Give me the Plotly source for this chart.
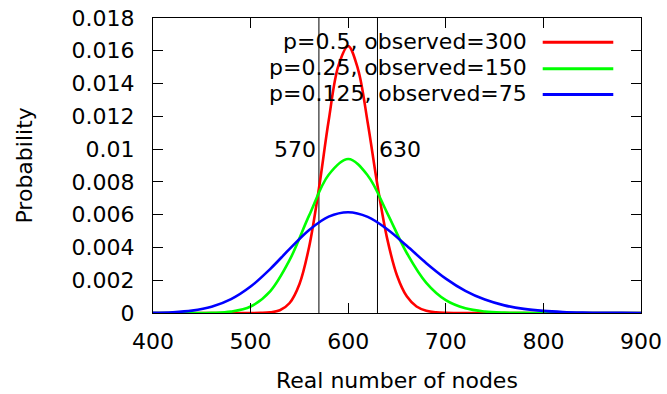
import plotly.graph_objects as go

# ---- data ----
nodes_a = [400, 410, 420, 430, 440, 450, 460, 470, 480, 490,
           500, 510, 520, 530, 540, 550, 560, 570, 580, 590,
           600, 610, 620, 630, 640, 650, 660, 670, 680, 690,
           700, 710, 720, 730, 740, 750, 760, 770, 780, 790,
           800, 810, 820, 830, 840, 850, 860, 870, 880, 890, 900]
prob_a = [0, 0, 0, 0, 0, 0, 0, 0, 0, 0.0000001,
          0.0000008, 0.0000061, 0.0000367, 0.000170, 0.000612, 0.001755, 0.004046, 0.007597, 0.011742, 0.015095,
          0.016283, 0.014887, 0.011612, 0.007789, 0.004524, 0.002289, 0.001016, 0.000397, 0.000138, 0.0000425,
          0.0000117, 0.0000029, 0.0000006, 0, 0, 0, 0, 0, 0, 0,
          0, 0, 0, 0, 0, 0, 0, 0, 0, 0, 0]

nodes_bc = [400, 420, 440, 460, 480, 500, 520, 540, 560, 580, 600, 620, 640,
            660, 680, 700, 720, 740, 760, 780, 800, 820, 840, 860, 880, 900]
prob_b = [0, 0, 0.0000012, 0.0000123, 0.0000843, 0.000396, 0.001323, 0.003237, 0.005955, 0.008438,
          0.009397, 0.008393, 0.006099, 0.003661, 0.001839, 0.000782, 0.000285, 0.0000895, 0.0000245,
          0.0000059, 0.0000013, 0.0000003, 0, 0, 0, 0]
prob_c = [0.0000114, 0.0000448, 0.0001428, 0.0003775, 0.000843, 0.001612, 0.002679, 0.003910, 0.005066,
          0.005877, 0.006149, 0.005863, 0.005110, 0.004099, 0.003043, 0.002100, 0.001353, 0.000818,
          0.000465, 0.0002495, 0.0001268, 0.0000612, 0.0000281, 0.0000123, 0.0000052, 0.0000021]

series_names = ["p=0.5, observed=300", "p=0.25, observed=150", "p=0.125, observed=75"]
series_colors = ["#ff0000", "#00ff00", "#0000ff"]

marker_lines = [570, 630]
marker_labels = ["570", "630"]
marker_label_y = 0.01

x_ticks = [400, 500, 600, 700, 800, 900]
y_ticks = [0, 0.002, 0.004, 0.006, 0.008, 0.01, 0.012, 0.014, 0.016, 0.018]
y_tick_text = ["0", "0.002", "0.004", "0.006", "0.008", "0.01", "0.012", "0.014", "0.016", "0.018"]

FONT = "DejaVu Sans"
FS = 22

fig = go.Figure()
for xs, ys, name, col in [(nodes_a, prob_a, series_names[0], series_colors[0]),
                          (nodes_bc, prob_b, series_names[1], series_colors[1]),
                          (nodes_bc, prob_c, series_names[2], series_colors[2])]:
    fig.add_trace(go.Scatter(x=xs, y=ys, mode="lines", name=name,
                             line=dict(color=col, width=2.6, shape="spline"),
                             showlegend=False))

# vertical marker lines and labels
for xv in marker_lines:
    fig.add_shape(type="line", xref="x", yref="paper", x0=xv, x1=xv, y0=0, y1=1,
                  line=dict(color="black", width=1), layer="below")
fig.add_annotation(x=marker_lines[0], y=marker_label_y, xref="x", yref="y", text=marker_labels[0],
                   showarrow=False, xanchor="right", yanchor="middle", xshift=-1,
                   font=dict(family=FONT, size=FS, color="black"))
fig.add_annotation(x=marker_lines[1], y=marker_label_y, xref="x", yref="y", text=marker_labels[1],
                   showarrow=False, xanchor="left", yanchor="middle", xshift=0,
                   font=dict(family=FONT, size=FS, color="black"))

# manual legend (text to the left of the line sample, gnuplot style)
leg_text_x = 0.770
leg_line_x0, leg_line_x1 = 0.7986, 0.9432
leg_rows = [0.922, 0.832, 0.745]
for name, col, yy in zip(series_names, series_colors, leg_rows):
    fig.add_annotation(x=leg_text_x, y=yy, xref="paper", yref="paper", text=name,
                       showarrow=False, xanchor="right", yanchor="middle",
                       font=dict(family=FONT, size=FS, color="black"))
    fig.add_shape(type="line", xref="paper", yref="paper", x0=leg_line_x0, x1=leg_line_x1,
                  y0=yy - 0.004, y1=yy - 0.004, line=dict(color=col, width=3))

# axis titles as annotations for exact placement
fig.add_annotation(x=-0.2643, y=0.5, xref="paper", yref="paper", text="Probability",
                   textangle=-90, showarrow=False, xanchor="center", yanchor="middle",
                   font=dict(family=FONT, size=FS, color="black"))
fig.add_annotation(x=0.5, y=-0.228, xref="paper", yref="paper", text="Real number of nodes",
                   showarrow=False, xanchor="center", yanchor="middle",
                   font=dict(family=FONT, size=FS, color="black"))

fig.update_layout(
    width=667, height=394,
    margin=dict(l=153, r=26, t=18, b=81),
    paper_bgcolor="white", plot_bgcolor="white",
    font=dict(family=FONT, size=FS, color="black"),
    showlegend=False,
)
fig.update_xaxes(range=[400, 900], tickvals=x_ticks, ticks="inside", ticklen=10, tickwidth=1,
                 tickcolor="black", showline=True, linecolor="black", linewidth=1, mirror="ticks",
                 showgrid=False, zeroline=False, automargin=False, ticklabelstandoff=9,
                 tickfont=dict(family=FONT, size=FS, color="black"))
fig.update_yaxes(range=[0, 0.018], tickvals=y_ticks, ticktext=y_tick_text, ticks="inside", ticklen=10,
                 tickwidth=1, tickcolor="black", showline=True, linecolor="black", linewidth=1,
                 mirror="ticks", showgrid=False, zeroline=False, automargin=False, ticklabelstandoff=13,
                 tickfont=dict(family=FONT, size=FS, color="black"))

fig.write_html("out.html")
